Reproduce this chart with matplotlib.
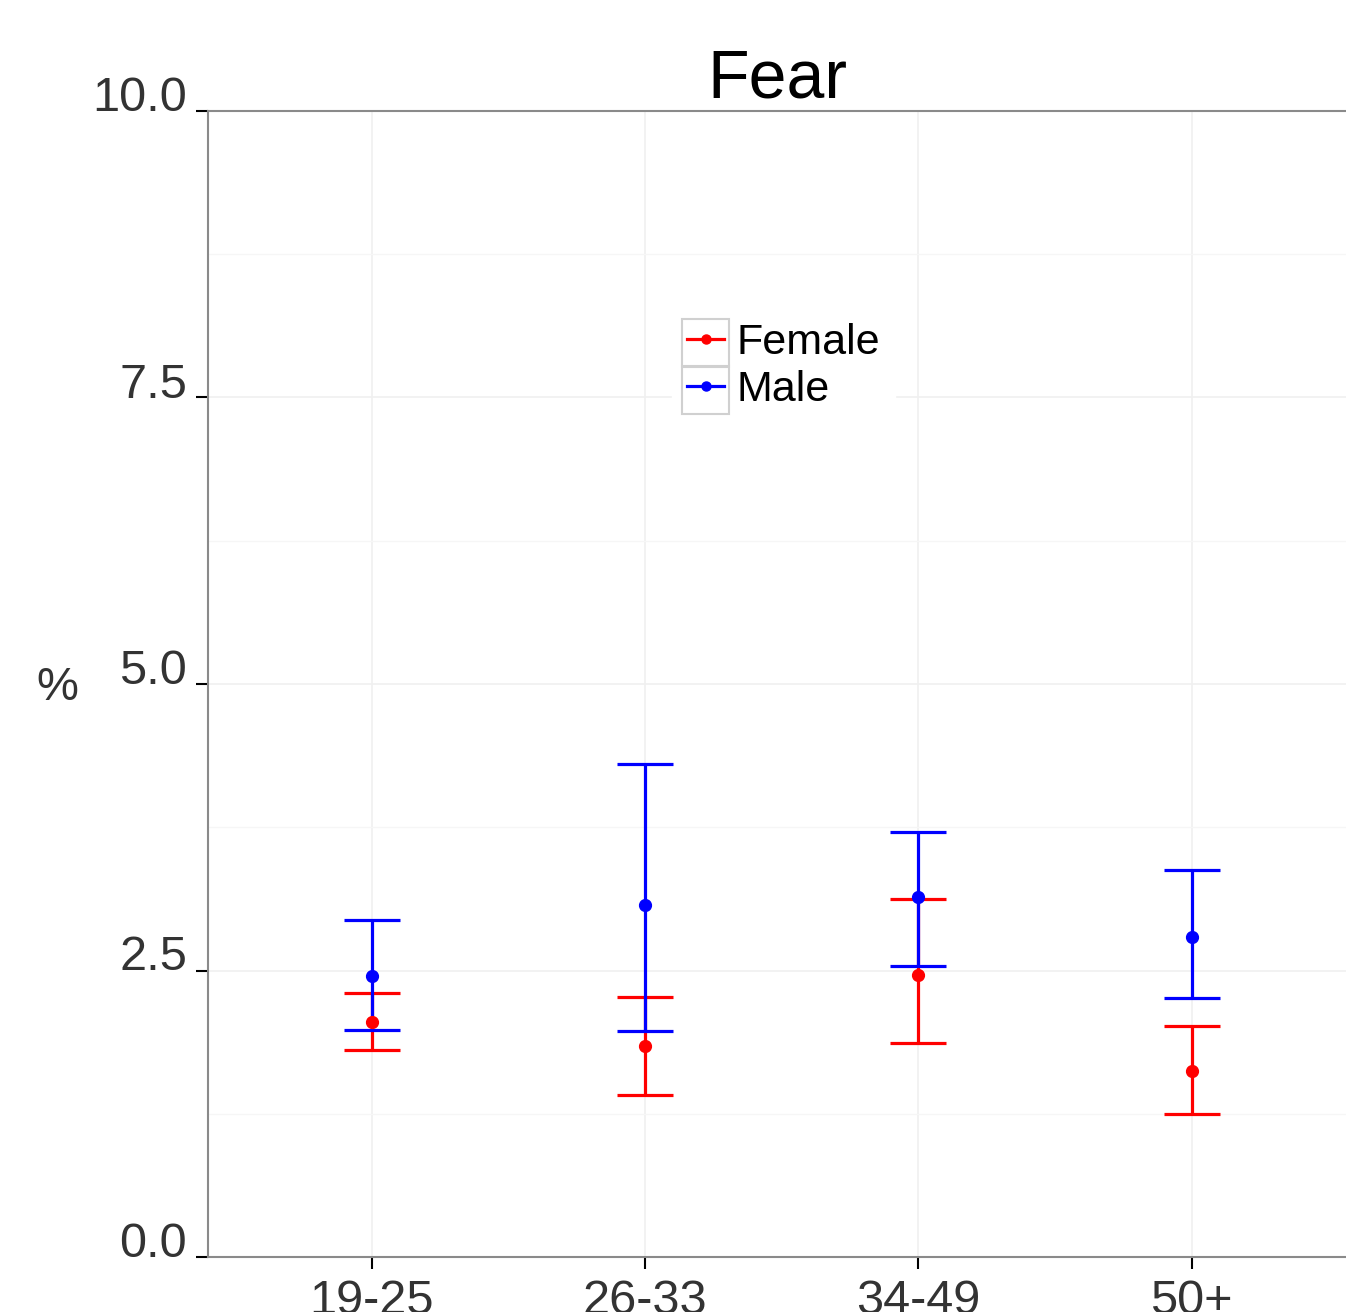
import matplotlib
matplotlib.use("Agg")
import matplotlib.pyplot as plt
from matplotlib.patches import Rectangle
from matplotlib.lines import Line2D
import numpy as np

plt.rcParams['font.family'] = ['Liberation Sans', 'DejaVu Sans']

categories = ["19-25", "26-33", "34-49", "50+"]
female_mean = [2.05, 1.84, 2.46, 1.62]
female_low = [1.81, 1.41, 1.87, 1.25]
female_high = [2.30, 2.27, 3.12, 2.02]
male_mean = [2.45, 3.07, 3.14, 2.79]
male_low = [1.98, 1.97, 2.54, 2.26]
male_high = [2.94, 4.30, 3.71, 3.38]
yticks = [0.0, 2.5, 5.0, 7.5, 10.0]
ytick_labels = ["0.0", "2.5", "5.0", "7.5", "10.0"]

W, H = 1346, 1312
fig = plt.figure(figsize=(W / 100, H / 100), dpi=100)
ax = fig.add_axes([208 / W, 1 - 1257 / H, (W - 208) / W, (1257 - 111) / H])

x = np.arange(1, len(categories) + 1)

def draw(mean, low, high, color):
    mean = np.array(mean); low = np.array(low); high = np.array(high)
    yerr = np.vstack([mean - low, high - mean])
    ax.errorbar(x, mean, yerr=yerr, fmt='none', ecolor=color, elinewidth=2.3,
                capsize=20, capthick=2.3, zorder=3)
    ax.plot(x, mean, 'o', color=color, markersize=8.5, zorder=4)

draw(female_mean, female_low, female_high, '#FF0000')
draw(male_mean, male_low, male_high, '#0000FF')

ax.set_xlim(0.4, 4.565)
ax.set_ylim(0, 10)
ax.set_xticks(x)
ax.set_xticklabels(categories)
ax.set_yticks(yticks)
ax.set_yticklabels(ytick_labels)
ax.set_yticks([1.25, 3.75, 6.25, 8.75], minor=True)

ax.grid(True, which='major', color='#F0F0F0', linewidth=1.2, zorder=0)
ax.grid(True, which='minor', axis='y', color='#F6F6F6', linewidth=1.0, zorder=0)
ax.set_axisbelow(True)

for s in ['left', 'bottom', 'top']:
    ax.spines[s].set_color('#8a8a8a')
    ax.spines[s].set_linewidth(1.5)
ax.spines['right'].set_visible(False)

ax.tick_params(axis='both', which='major', labelsize=35, length=8.5, width=1.5,
               color='black', labelcolor='#333333')
ax.tick_params(axis='y', pad=6.5)
ax.tick_params(axis='x', pad=7)
ax.tick_params(which='minor', length=0)
for lbl in ax.get_yticklabels():
    lbl.set_verticalalignment('baseline')

ax.set_title('Fear', fontsize=49, pad=6, color='black')
ax.set_ylabel('%', rotation=0, fontsize=34, color='#333333', ha='center', va='center')
ax.yaxis.set_label_coords(-0.1327, 0.4965)

handles = [Line2D([], [], color='#FF0000', marker='o', markersize=6.5, linewidth=2.3),
           Line2D([], [], color='#0000FF', marker='o', markersize=6.5, linewidth=2.3)]
leg = ax.legend(handles, ['Female', 'Male'], loc='center', bbox_to_anchor=(0.506, 0.777),
                fontsize=31, frameon=True, fancybox=False, framealpha=1,
                facecolor='white', edgecolor='white', handlelength=0.85,
                handletextpad=0.3, labelspacing=0.16, borderpad=0.35)
leg.set_zorder(5)

fig.canvas.draw()
inv = ax.transAxes.inverted()
rend = fig.canvas.get_renderer()
for line, txt in zip(leg.get_lines(), leg.get_texts()):
    lb = line.get_window_extent(rend)
    tb = txt.get_window_extent(rend)
    cx = (lb.x0 + lb.x1) / 2
    cy = (tb.y0 + tb.y1) / 2
    w, h = 47, 48
    (x0, y0) = inv.transform((cx - w / 2, cy - h / 2))
    (x1, y1) = inv.transform((cx + w / 2, cy + h / 2))
    r = Rectangle((x0, y0), x1 - x0, y1 - y0, transform=ax.transAxes,
                  facecolor='none', edgecolor='#D0D0D0', linewidth=1.5, zorder=6,
                  clip_on=False)
    ax.add_patch(r)

fig.savefig('out.png', dpi=100)
